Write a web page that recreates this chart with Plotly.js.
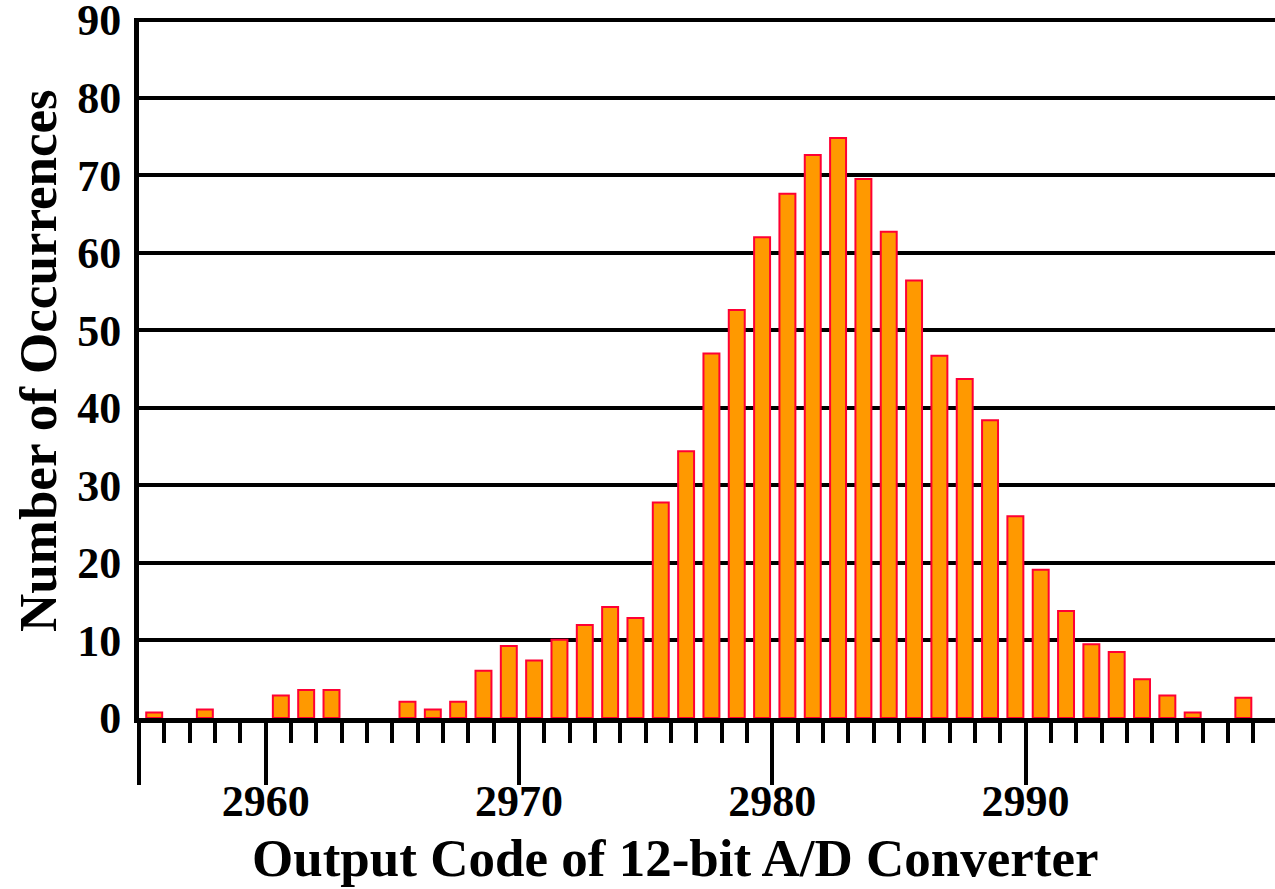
<!DOCTYPE html>
<html>
<head>
<meta charset="utf-8">
<script src="https://cdn.plot.ly/plotly-3.0.1.min.js"></script>
<style>html,body{margin:0;padding:0;background:#fff;}#chart{width:1275px;height:889px;}</style>
</head>
<body>
<div id="chart"></div>
<script>
// Output codes of the 12-bit A/D converter (codes with zero occurrences omitted)
const codes = [2955, 2957, 2960, 2961, 2962, 2965, 2966, 2967, 2968, 2969,
               2970, 2971, 2972, 2973, 2974, 2975, 2976, 2977, 2978, 2979,
               2980, 2981, 2982, 2983, 2984, 2985, 2986, 2987, 2988, 2989,
               2990, 2991, 2992, 2993, 2994, 2995, 2996, 2998];
// Number of occurrences for each code
const counts = [0.7, 1.1, 2.9, 3.6, 3.6, 2.1, 1.1, 2.1, 6.1, 9.3,
                7.4, 10.1, 12.0, 14.3, 12.9, 27.8, 34.4, 47.0, 52.6, 62.0,
                67.6, 72.6, 74.8, 69.5, 62.7, 56.4, 46.7, 43.7, 38.4, 26.0,
                19.1, 13.8, 9.5, 8.5, 5.0, 2.9, 0.7, 2.6];
// Axis ticks
const xMajorTicks = [2955, 2960, 2970, 2980, 2990];
const xMajorLabels = ['', '2960', '2970', '2980', '2990'];
const yTicks = [0, 10, 20, 30, 40, 50, 60, 70, 80, 90];
const yLabels = ['0', '10', '20', '30', '40', '50', '60', '70', '80', '90'];
const xTitle = 'Output Code of 12-bit A/D Converter';
const yTitle = 'Number of Occurrences';

const FONT = 'Liberation Serif, "Times New Roman", Times, serif';

const trace = {
  type: 'bar',
  x: codes,
  y: counts,
  width: 0.63,
  offset: 0.285,
  marker: {color: '#FF9900', line: {color: '#FF0033', width: 2}},
  hoverinfo: 'x+y'
};

const layout = {
  width: 1275,
  height: 889,
  margin: {l: 139, r: 0, t: 18, b: 171},
  paper_bgcolor: '#ffffff',
  plot_bgcolor: '#ffffff',
  showlegend: false,
  font: {family: FONT, color: '#000', size: 44, weight: 'bold'},
  xaxis: {
    range: [2955, 2999.85],
    tickmode: 'array',
    tickvals: xMajorTicks,
    ticktext: xMajorLabels,
    ticks: 'outside',
    ticklen: 62,
    tickwidth: 4,
    tickcolor: '#000',
    ticklabelstandoff: -22,
    showline: true,
    linewidth: 5,
    linecolor: '#000',
    showgrid: false,
    zeroline: false,
    tickfont: {family: FONT, size: 44, weight: 'bold', color: '#000'},
    minor: {dtick: 1, tick0: 2955, ticks: 'outside', ticklen: 20, tickwidth: 4, tickcolor: '#000', showgrid: false},
    automargin: false,
    fixedrange: true
  },
  yaxis: {
    range: [0, 90.26],
    tickmode: 'array',
    tickvals: yTicks,
    ticktext: yLabels,
    ticks: '',
    ticklabelstandoff: 4,
    ticklabeloverflow: 'allow',
    showline: true,
    linewidth: 5,
    linecolor: '#000',
    showgrid: true,
    gridcolor: '#000',
    gridwidth: 4,
    zeroline: false,
    tickfont: {family: FONT, size: 44, weight: 'bold', color: '#000'},
    automargin: false,
    fixedrange: true
  },
  annotations: [
    {text: xTitle, xref: 'paper', yref: 'paper', x: 0.4718, y: -0.200,
     xanchor: 'center', yanchor: 'middle', showarrow: false,
     font: {family: FONT, size: 53, weight: 'bold', color: '#000'}},
    {text: yTitle, xref: 'paper', yref: 'paper', x: -0.0889, y: 0.510,
     xanchor: 'center', yanchor: 'middle', textangle: -90, showarrow: false,
     font: {family: FONT, size: 53, weight: 'bold', color: '#000'}}
  ]
};

Plotly.newPlot('chart', [trace], layout, {displayModeBar: false, staticPlot: true});
</script>
</body>
</html>
